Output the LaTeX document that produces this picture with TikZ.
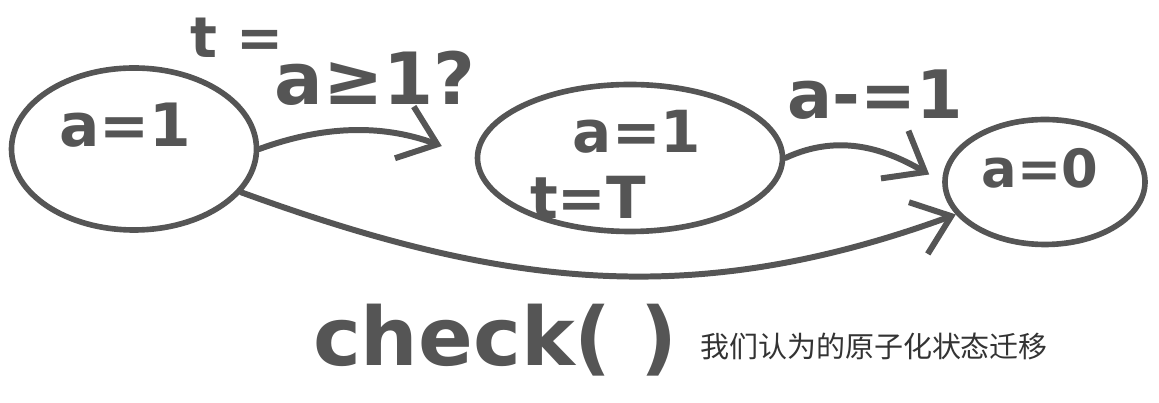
\documentclass[tikz,border=0pt]{standalone}
\usepackage{fontspec}
\setmainfont{DejaVu Sans}
\newfontfamily\cjk{Noto Sans CJK SC}
\usetikzlibrary{arrows.meta}
\usetikzlibrary{automata}
\usetikzlibrary{shapes.geometric}
\definecolor{pen}{RGB}{85,85,85}
\definecolor{note}{RGB}{51,51,51}

\begin{document}
\begin{tikzpicture}[
            > = {Straight Barb[length=7mm,width=11mm]}, % open chevron head
            line width = 3.4pt, % marker stroke
            line cap = round,
            draw = pen
        ]

        \tikzstyle{every state}=[
            ellipse,
            draw = pen,
            line width = 3.2pt,
            inner sep = 0pt,
            fill = none
        ]
        \tikzstyle{hand}=[text = pen, inner sep = 0pt, font = \bfseries]

        \useasboundingbox (0,0) rectangle (23.18,8.06);

	% states
        \node[state, minimum width = 4.9cm, minimum height = 3.24cm] (S1) at (2.68,5.08) {};
        \node[state, minimum width = 6.1cm, minimum height = 2.94cm] (S2) at (12.6,4.9) {};
        \node[state, minimum width = 4.0cm, minimum height = 2.5cm] (S3) at (20.9,4.42) {};

        % state texts
        \node[hand, font = \bfseries\fontsize{34}{34}\selectfont] (V1) at (2.5,5.56) {a=1};
        \node[hand, font = \bfseries\fontsize{33}{33}\selectfont] (V2) at (12.74,5.42) {a=1};
        \node[hand, font = \bfseries\fontsize{33}{33}\selectfont] (T2) at (11.76,4.12) {t=T};
        \node[hand, font = \bfseries\fontsize{30}{30}\selectfont] (V3) at (20.8,4.7) {a=0};

        % transitions
        \path[->] (S1.east) edge[out = 20, in = 160, shorten > = 0.7cm] (S2.west);
        \path[->] (S2.east) edge[out = 25, in = 150, shorten > = 0.3cm] (S3.west);
        \path[->] (S1.-22) edge[out = -20, in = 200] (S3.200);

        % guards
        \node[hand, font = \bfseries\fontsize{32}{32}\selectfont] (G1) at (4.74,7.3) {t =};
        \node[hand, font = \bfseries\fontsize{41}{41}\selectfont] (G2) at (7.5,6.5) {a≥1?};
        \node[hand, font = \bfseries\fontsize{38}{38}\selectfont] (G3) at (17.5,6.16) {a-=1};

        % caption
        \node[hand, font = \bfseries\fontsize{46}{46}\selectfont] (C) at (9.9,1.26) {check( )};
        \node[text = note, inner sep = 0pt, font = \cjk\fontsize{16.5}{16.5}\selectfont] (N) at (17.48,1.14) {我们认为的原子化状态迁移};

  \end{tikzpicture}
\end{document}
